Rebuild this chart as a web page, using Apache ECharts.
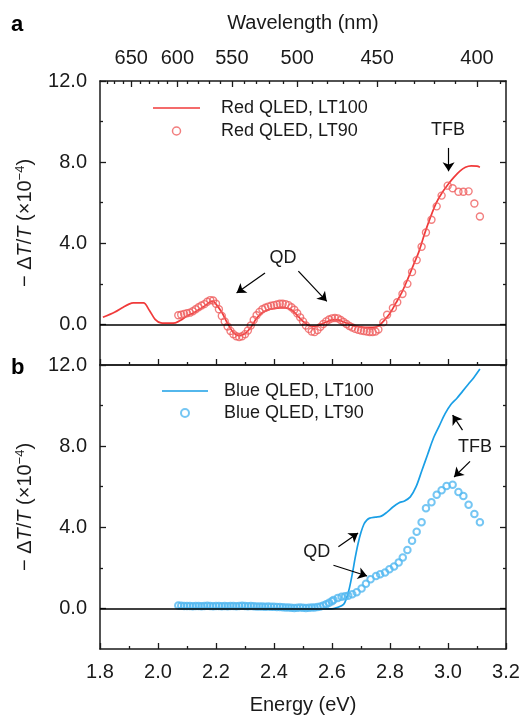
<!DOCTYPE html>
<html>
<head>
<meta charset="utf-8">
<script src="https://cdn.jsdelivr.net/npm/echarts@6/dist/echarts.min.js"></script>
<style>
  html, body { margin: 0; padding: 0; background: #fff; }
  #chart { width: 526px; height: 718px; }
</style>
</head>
<body>
<div id="chart"></div>
<script>
// tick labels
const energyRange = [1.8, 3.2]
const wavelengthTicks = [650, 600, 550, 500, 450, 400]
const wavelengthMinor = [680, 670, 660, 640, 630, 620, 610, 590, 580, 570, 560, 540, 530, 520, 510,
  490, 480, 470, 460, 440, 430, 420, 410, 390]
const yTicks = [0, 4, 8, 12]
const yMinor = [2, 6, 10]

// panel a: red QLED  [energy eV, -dT/T x1e-4]
const redLT100 = [
  [1.81, 0.35], [1.85, 0.6], [1.88, 0.85], [1.9, 1.0], [1.915, 1.06], [1.95, 1.06], [1.97, 0.7],
  [1.99, 0.25], [2.01, 0.08], [2.04, 0.06], [2.06, 0.08], [2.08, 0.22], [2.1, 0.42], [2.12, 0.55],
  [2.14, 0.72], [2.16, 0.9], [2.18, 1.12], [2.19, 1.15], [2.2, 1.0], [2.22, 0.6], [2.24, 0.05],
  [2.26, -0.4], [2.28, -0.55], [2.3, -0.45], [2.32, -0.15], [2.34, 0.3], [2.36, 0.58], [2.38, 0.72],
  [2.4, 0.78], [2.42, 0.82], [2.44, 0.82], [2.46, 0.72], [2.48, 0.45], [2.5, 0.15], [2.52, -0.05],
  [2.54, -0.1], [2.56, -0.02], [2.58, 0.12], [2.6, 0.22], [2.62, 0.22], [2.64, 0.12], [2.66, 0.0],
  [2.68, -0.08], [2.7, -0.12], [2.72, -0.15], [2.74, -0.15], [2.76, -0.08], [2.78, 0.2], [2.8, 0.55],
  [2.82, 1.05], [2.84, 1.55], [2.86, 2.2], [2.88, 2.9], [2.9, 3.6], [2.92, 4.5], [2.94, 5.3],
  [2.96, 6.0], [2.98, 6.5], [3.0, 6.9], [3.02, 7.25], [3.04, 7.55], [3.06, 7.75], [3.08, 7.82],
  [3.1, 7.8], [3.11, 7.75]
]
const redLT90 = [
  [2.07, 0.45], [2.08, 0.48], [2.09, 0.52], [2.1, 0.55], [2.11, 0.58], [2.12, 0.65], [2.13, 0.75],
  [2.14, 0.85], [2.15, 0.93], [2.16, 1.0], [2.17, 1.12], [2.18, 1.2], [2.19, 1.18], [2.2, 1.02],
  [2.21, 0.75], [2.22, 0.42], [2.23, 0.15], [2.24, -0.1], [2.25, -0.32], [2.26, -0.48], [2.27, -0.58],
  [2.28, -0.62], [2.29, -0.58], [2.3, -0.48], [2.31, -0.3], [2.32, -0.05], [2.33, 0.22], [2.34, 0.45],
  [2.35, 0.62], [2.36, 0.75], [2.37, 0.82], [2.38, 0.88], [2.39, 0.92], [2.4, 0.95], [2.41, 0.98],
  [2.42, 1.02], [2.43, 1.02], [2.44, 1.0], [2.45, 0.95], [2.46, 0.85], [2.47, 0.72], [2.48, 0.55],
  [2.49, 0.35], [2.5, 0.15], [2.51, -0.05], [2.52, -0.22], [2.53, -0.35], [2.54, -0.38], [2.55, -0.28],
  [2.56, -0.12], [2.57, 0.02], [2.58, 0.15], [2.59, 0.24], [2.6, 0.3], [2.61, 0.32], [2.62, 0.3],
  [2.63, 0.22], [2.64, 0.12], [2.65, 0.02], [2.66, -0.08], [2.67, -0.15], [2.68, -0.22], [2.69, -0.26],
  [2.7, -0.3], [2.71, -0.33], [2.72, -0.35], [2.73, -0.37], [2.74, -0.38], [2.75, -0.35], [2.76, -0.25],
  [2.777, 0.1], [2.79, 0.48], [2.81, 0.81], [2.825, 1.09], [2.843, 1.5], [2.86, 2.0], [2.876, 2.58],
  [2.892, 3.17], [2.909, 3.83], [2.924, 4.53], [2.943, 5.16], [2.961, 5.82], [2.978, 6.35], [2.999, 6.84],
  [3.016, 6.71], [3.036, 6.54], [3.053, 6.54], [3.071, 6.56], [3.091, 5.96], [3.11, 5.32]
]

// panel b: blue QLED
const blueLT100 = [
  [2.07, 0.0], [2.2, 0.0], [2.4, 0.0], [2.55, -0.02], [2.6, -0.02], [2.62, 0.05], [2.64, 0.2],
  [2.65, 0.5], [2.66, 1.0], [2.67, 1.7], [2.68, 2.5], [2.69, 3.2], [2.7, 3.75], [2.71, 4.15],
  [2.72, 4.35], [2.73, 4.45], [2.75, 4.5], [2.77, 4.55], [2.79, 4.75], [2.81, 5.0], [2.83, 5.2],
  [2.85, 5.3], [2.87, 5.5], [2.89, 6.0], [2.91, 6.8], [2.93, 7.6], [2.95, 8.4], [2.97, 9.0],
  [2.99, 9.6], [3.01, 10.05], [3.03, 10.35], [3.05, 10.7], [3.07, 11.05], [3.09, 11.4], [3.11, 11.8]
]
const blueLT90 = [
  [2.07, 0.15], [2.08, 0.13], [2.09, 0.12], [2.1, 0.12], [2.11, 0.12], [2.12, 0.11], [2.13, 0.12],
  [2.14, 0.12], [2.15, 0.11], [2.16, 0.12], [2.17, 0.13], [2.18, 0.12], [2.19, 0.11], [2.2, 0.12],
  [2.21, 0.12], [2.22, 0.11], [2.23, 0.12], [2.24, 0.11], [2.25, 0.12], [2.26, 0.12], [2.27, 0.11],
  [2.28, 0.12], [2.29, 0.13], [2.3, 0.12], [2.31, 0.11], [2.32, 0.12], [2.33, 0.11], [2.34, 0.1],
  [2.35, 0.1], [2.36, 0.09], [2.37, 0.08], [2.38, 0.09], [2.39, 0.08], [2.4, 0.08], [2.41, 0.07],
  [2.42, 0.07], [2.43, 0.06], [2.44, 0.05], [2.45, 0.04], [2.46, 0.03], [2.47, 0.02], [2.48, 0.03],
  [2.49, 0.04], [2.5, 0.03], [2.51, 0.02], [2.52, 0.03], [2.53, 0.04], [2.54, 0.05], [2.55, 0.07],
  [2.56, 0.1], [2.57, 0.14], [2.58, 0.2], [2.59, 0.28], [2.6, 0.36], [2.605, 0.41], [2.62, 0.52],
  [2.633, 0.58], [2.645, 0.6], [2.656, 0.62], [2.67, 0.7], [2.685, 0.8], [2.702, 0.98], [2.717, 1.22],
  [2.733, 1.44], [2.752, 1.6], [2.766, 1.69], [2.783, 1.77], [2.798, 1.93], [2.814, 2.07], [2.83, 2.27],
  [2.844, 2.51], [2.86, 2.88], [2.876, 3.34], [2.892, 3.78], [2.909, 4.25], [2.924, 4.94], [2.943, 5.24],
  [2.961, 5.6], [2.978, 5.82], [2.995, 6.03], [3.016, 6.1], [3.036, 5.74], [3.053, 5.54], [3.071, 5.11],
  [3.091, 4.66], [3.11, 4.25]
]

// annotations (text + arrow tail/head, data coords)
const notesA = [
  { text: 'QD', at: [2.431, 3.27] },
  { text: 'TFB', at: [3.0, 9.6] }
]
const arrowsA = [
  [[2.369, 2.54], [2.271, 1.55]],
  [[2.484, 2.63], [2.582, 1.14]],
  [[3.002, 8.7], [3.002, 7.55]]
]
const notesB = [
  { text: 'QD', at: [2.547, 2.76] },
  { text: 'TFB', at: [3.093, 7.97] }
]
const arrowsB = [
  [[2.622, 3.04], [2.69, 3.72]],
  [[2.605, 2.13], [2.721, 1.6]],
  [[3.05, 8.79], [3.016, 9.53]],
  [[3.076, 7.25], [3.021, 6.48]]
]

const FONT = '"Liberation Sans", Arial, Helvetica, sans-serif'
const INK = '#1a1a1a'
const RED = '#f03a3a'
const RED_DOT = '#ef5e5e'
const BLUE = '#1a9fe6'
const BLUE_DOT = '#52b8f0'
const LINE_ICON = 'path://M0,0 L47,0 L47,1.7 L0,1.7 Z'

const toE = w => 1240 / w
const yName = '{n|− Δ}{i|T}{n|/}{i|T}{n| (×10}{s|−4}{n|)}'
const yNameRich = {
  n: { fontSize: 20, color: INK, fontFamily: FONT },
  i: { fontSize: 20, color: INK, fontFamily: FONT, fontStyle: 'italic' },
  s: { fontSize: 13, color: INK, fontFamily: FONT, padding: [0, 0, 9, 0] }
}
const axisLine = { show: true, onZero: false, lineStyle: { color: INK, width: 1.5 } }

function energyAxis(grid, position, labels) {
  return {
    type: 'value', gridIndex: grid, position: position,
    min: energyRange[0], max: energyRange[1], interval: 0.2,
    axisLine: axisLine,
    axisTick: { show: true, inside: true, length: 6, lineStyle: { color: INK, width: 1.3 } },
    minorTick: { show: true, splitNumber: 2, length: 3, lineStyle: { color: INK, width: 1.3 } },
    axisLabel: { show: labels, margin: 13, fontSize: 20, color: INK, fontFamily: FONT,
      formatter: v => v.toFixed(1) },
    splitLine: { show: false }
  }
}
function yAxis(grid, position, ticks, len, labels, named) {
  return {
    type: 'value', gridIndex: grid, position: position, min: -2, max: 12,
    axisLine: labels !== null ? axisLine : { show: false },
    axisTick: { show: true, inside: true, length: len, customValues: ticks,
      lineStyle: { color: INK, width: 1.3 } },
    axisLabel: { show: !!labels, customValues: ticks, margin: 13, fontSize: 20, color: INK,
      fontFamily: FONT, formatter: v => v.toFixed(1) },
    splitLine: { show: false },
    name: named ? yName : '', nameLocation: 'middle', nameRotate: 90, nameGap: 64,
    nameTextStyle: { rich: yNameRich }
  }
}

function arrowLines(list) {
  return list.map(a => [{ coord: a[0] }, { coord: a[1] }])
}
function notePoints(list) {
  return list.map(n => ({ name: n.text, coord: n.at }))
}
// zero line
function helper(x, y) {
  return {
    type: 'line', xAxisIndex: x, yAxisIndex: y, data: [[2.5, 0]], symbol: 'none',
    lineStyle: { width: 0 }, silent: true, z: 1,
    markLine: {
      silent: true, animation: false, symbol: 'none', label: { show: false },
      lineStyle: { color: '#000', width: 1.6, type: 'solid' },
      data: [{ yAxis: 0 }]
    }
  }
}
// QD / TFB arrows and labels
function annot(x, y, notes, arrows) {
  return {
    type: 'line', xAxisIndex: x, yAxisIndex: y, data: [[2.5, 0]], symbol: 'none',
    lineStyle: { width: 0 }, silent: true, z: 5,
    markLine: {
      silent: true, animation: false, symbol: ['none', 'arrow'], symbolSize: 9,
      label: { show: false },
      lineStyle: { color: '#000', width: 1.2, type: 'solid' },
      data: arrowLines(arrows)
    },
    markPoint: {
      silent: true, animation: false, symbol: 'rect', symbolSize: 1,
      itemStyle: { color: 'rgba(0,0,0,0)' },
      label: { show: true, position: 'inside', formatter: '{b}', fontSize: 18, color: INK, fontFamily: FONT },
      data: notePoints(notes)
    }
  }
}

let myChart = echarts.init(document.getElementById('chart'), null, { renderer: 'canvas' })
let option = {
  animation: false,
  backgroundColor: '#fff',
  textStyle: { fontFamily: FONT },
  grid: [
    { left: 100, right: 20, top: 81, height: 284, outerBoundsMode: 'none', containLabel: false },
    { left: 100, right: 20, top: 365, height: 284, outerBoundsMode: 'none', containLabel: false }
  ],
  graphic: [
    { type: 'text', left: 11, top: 14, style: { text: 'a', fontSize: 22, fontWeight: 'bold', fill: '#000', fontFamily: FONT } },
    { type: 'text', left: 11, top: 357, style: { text: 'b', fontSize: 22, fontWeight: 'bold', fill: '#000', fontFamily: FONT } }
  ],
  legend: [
    {
      orient: 'vertical', left: 153, top: 99, padding: 0, itemGap: 5, itemWidth: 47, itemHeight: 8,
      textStyle: { fontSize: 18, color: INK, fontFamily: FONT, padding: [0, 0, 0, 16] },
      data: [
        { name: 'Red QLED, LT100', icon: LINE_ICON, itemStyle: { color: RED, borderWidth: 0 } },
        { name: 'Red QLED, LT90', icon: 'circle',
          itemStyle: { color: 'rgba(0,0,0,0)', borderColor: RED_DOT, borderWidth: 1.5 } }
      ]
    },
    {
      orient: 'vertical', left: 162, top: 382, padding: 0, itemGap: 4, itemWidth: 46, itemHeight: 8,
      textStyle: { fontSize: 18, color: INK, fontFamily: FONT, padding: [0, 0, 0, 11] },
      data: [
        { name: 'Blue QLED, LT100', icon: LINE_ICON, itemStyle: { color: BLUE, borderWidth: 0 } },
        { name: 'Blue QLED, LT90', icon: 'circle',
          itemStyle: { color: 'rgba(0,0,0,0)', borderColor: BLUE_DOT, borderWidth: 2 } }
      ]
    }
  ],
  xAxis: [
    energyAxis(0, 'bottom', false),
    {
      type: 'value', gridIndex: 0, position: 'top', min: energyRange[0], max: energyRange[1],
      axisLine: axisLine,
      axisTick: { show: true, inside: true, length: 6, customValues: wavelengthTicks.map(toE),
        lineStyle: { color: INK, width: 1.3 } },
      axisLabel: { show: true, customValues: wavelengthTicks.map(toE), margin: 13, fontSize: 20,
        color: INK, fontFamily: FONT, formatter: v => String(Math.round(1240 / v)) },
      splitLine: { show: false },
      name: 'Wavelength (nm)', nameLocation: 'middle', nameGap: 48,
      nameTextStyle: { fontSize: 20, color: INK, fontFamily: FONT }
    },
    {
      type: 'value', gridIndex: 0, position: 'top', min: energyRange[0], max: energyRange[1],
      axisLine: { show: false, onZero: false },
      axisTick: { show: true, inside: true, length: 3, customValues: wavelengthMinor.map(toE),
        lineStyle: { color: INK, width: 1.3 } },
      axisLabel: { show: false },
      splitLine: { show: false }
    },
    Object.assign(energyAxis(1, 'bottom', true), {
      name: 'Energy (eV)', nameLocation: 'middle', nameGap: 46,
      nameTextStyle: { fontSize: 20, color: INK, fontFamily: FONT }
    }),
    {
      type: 'value', gridIndex: 1, position: 'top', min: energyRange[0], max: energyRange[1],
      axisLine: axisLine, axisTick: { show: false }, axisLabel: { show: false }, splitLine: { show: false }
    }
  ],
  yAxis: [
    yAxis(0, 'left', yTicks, 6, true, true),
    yAxis(0, 'left', yMinor, 3, null, false),
    yAxis(0, 'right', yTicks, 6, false, false),
    yAxis(0, 'right', yMinor, 3, null, false),
    yAxis(1, 'left', yTicks, 6, true, true),
    yAxis(1, 'left', yMinor, 3, null, false),
    yAxis(1, 'right', yTicks, 6, false, false),
    yAxis(1, 'right', yMinor, 3, null, false)
  ],
  series: [
    helper(0, 0),
    helper(3, 4),
    {
      name: 'Red QLED, LT100', type: 'line', xAxisIndex: 0, yAxisIndex: 0, data: redLT100,
      symbol: 'none', smooth: 0.3, z: 3,
      lineStyle: { color: RED, width: 1.7 }, itemStyle: { color: RED }
    },
    {
      name: 'Red QLED, LT90', type: 'scatter', xAxisIndex: 0, yAxisIndex: 0, data: redLT90,
      symbol: 'circle', symbolSize: 7, z: 4,
      itemStyle: { color: 'rgba(0,0,0,0)', borderColor: RED_DOT, borderWidth: 1.4 }
    },
    {
      name: 'Blue QLED, LT100', type: 'line', xAxisIndex: 3, yAxisIndex: 4, data: blueLT100,
      symbol: 'none', smooth: 0.3, z: 3,
      lineStyle: { color: BLUE, width: 1.7 }, itemStyle: { color: BLUE }
    },
    {
      name: 'Blue QLED, LT90', type: 'scatter', xAxisIndex: 3, yAxisIndex: 4, data: blueLT90,
      symbol: 'circle', symbolSize: 6.5, z: 4,
      itemStyle: { color: 'rgba(0,0,0,0)', borderColor: BLUE_DOT, borderWidth: 2 }
    },
    annot(0, 0, notesA, arrowsA),
    annot(3, 4, notesB, arrowsB)
  ]
}
myChart.setOption(option)
</script>
</body>
</html>
